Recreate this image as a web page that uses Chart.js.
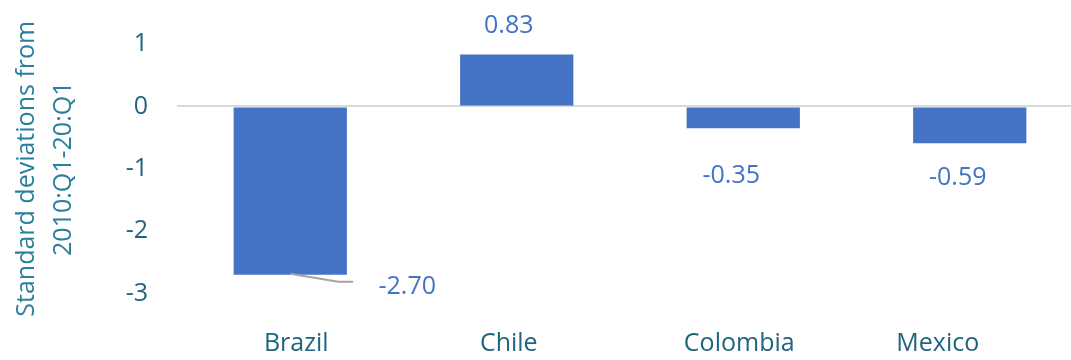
<!DOCTYPE html>
<html>
<head>
<meta charset="utf-8">
<script src="https://cdn.jsdelivr.net/npm/chart.js@4/dist/chart.umd.min.js"></script>
<style>
  html, body { margin: 0; padding: 0; background: #fff; overflow: hidden; }
  #wrap { width: 1083px; height: 360px; }
</style>
</head>
<body>
<div id="wrap"><canvas id="c" width="1083" height="360"></canvas></div>
<script>
// ---------- data ----------
const countries = ['Brazil', 'Chile', 'Colombia', 'Mexico'];
const sdValues  = [-2.70, 0.83, -0.35, -0.59];
const yTicks    = [1, 0, -1, -2, -3];
const yTitle    = ['Standard deviations from', '2010:Q1-20:Q1'];

// ---------- look ----------
const BLUE = '#4472C4', TEAL = '#1f6480', TITLE_TEAL = '#2b7f9e';
const FONT = '"Open Sans", "Liberation Sans", sans-serif';

// label offsets (px) from each bar end, the labels were hand-placed
const labelShift = [[117, 12], [-8, -29], [-12, 48], [-12, 35]];
// category names are not quite centred under the bars either
const nameShift = [6, -8, -4, -32];

// data labels, category names + the leader line for Brazil
const barLabels = {
  id: 'barLabels',
  afterDatasetsDraw(chart) {
    const ctx = chart.ctx;
    const meta = chart.getDatasetMeta(0);
    const xs = chart.scales.x;
    ctx.save();
    // leader line
    const b = meta.data[0];
    ctx.strokeStyle = '#a5a5a5';
    ctx.lineWidth = 2;
    ctx.beginPath();
    ctx.moveTo(b.x, b.y - 1);
    ctx.lineTo(b.x + 48, b.y + 7);
    ctx.lineTo(b.x + 63, b.y + 7);
    ctx.stroke();

    ctx.textAlign = 'center';
    ctx.textBaseline = 'middle';
    ctx.font = '25px ' + FONT;
    ctx.fillStyle = BLUE;
    meta.data.forEach((bar, i) => {
      const [dx, dy] = labelShift[i];
      ctx.fillText(sdValues[i].toFixed(2), bar.x + dx, bar.y + dy);
    });

    ctx.fillStyle = TEAL;
    countries.forEach((name, i) => {
      ctx.fillText(name, xs.getPixelForValue(i) + nameShift[i], 344);
    });
    ctx.restore();
  }
};

new Chart(document.getElementById('c'), {
  type: 'bar',
  data: {
    labels: countries,
    datasets: [{
      data: sdValues,
      backgroundColor: BLUE,
      categoryPercentage: 1,
      barPercentage: 0.5
    }]
  },
  options: {
    responsive: false,
    animation: false,
    layout: { padding: { top: 43, left: 8, right: 0, bottom: 0 } },
    plugins: { legend: { display: false }, tooltip: { enabled: false } },
    scales: {
      x: {
        grid: { display: false },
        border: { display: false },
        ticks: { display: false },
        afterFit(s) { s.height = 66.5; }
      },
      y: {
        min: yTicks[yTicks.length - 1],
        max: yTicks[0],
        afterBuildTicks(s) { s.ticks = yTicks.map(v => ({ value: v })); },
        border: { display: false },
        grid: {
          drawTicks: false,
          lineWidth: 2,
          color: c => c.tick && c.tick.value === 0 ? '#d9d9d9' : 'rgba(0,0,0,0)'
        },
        ticks: { color: TEAL, font: { family: FONT, size: 25 }, padding: 29 },
        title: {
          display: true,
          text: yTitle,
          color: TITLE_TEAL,
          font: { family: FONT, size: 25, lineHeight: 1.5 },
          padding: { top: 0, bottom: 0 }
        },
        afterFit(s) { s.width = 169; }
      }
    }
  },
  plugins: [barLabels]
});
</script>
</body>
</html>
